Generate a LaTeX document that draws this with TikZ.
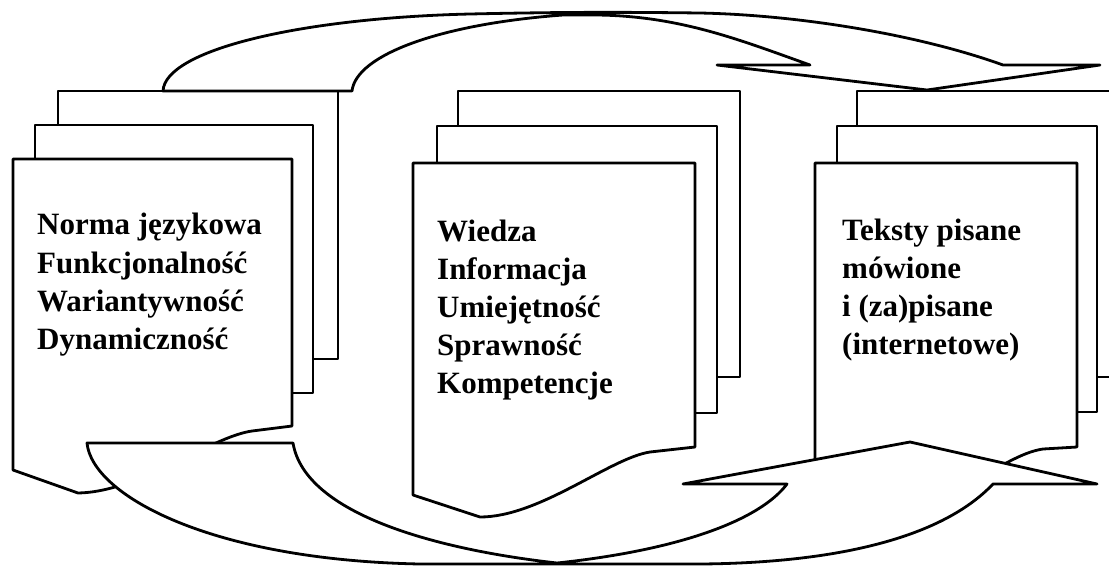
\documentclass[tikz,border=0pt]{standalone}
\usepackage{fontspec}
\setmainfont{Liberation Serif}
\begin{document}
\begin{tikzpicture}[x=1pt,y=-1pt,
  doc/.style={draw=black,fill=white,line width=2.8pt,line join=round},
  band/.style={draw=black,fill=white,line width=2.8pt,line join=round},
  txt/.style={anchor=base west,inner sep=0pt,font=\fontsize{31}{38}\selectfont\bfseries}]
\useasboundingbox (0,0) rectangle (1109,566);
\clip (0,0) rectangle (1109,566);
% ---- left stack
\draw[doc] (58,91) rectangle (338,359);
\draw[doc] (35,125) rectangle (313,393);
\draw[doc] (13,159) -- (292,159) -- (292,426) -- (252,431)
  .. controls (210,437) and (140,492) .. (78,493) -- (13,470) -- cycle;
% ---- middle stack
\draw[doc] (458,91) rectangle (740,377);
\draw[doc] (437,126) rectangle (717,413);
\draw[doc] (413,163) -- (695,163) -- (695,447) -- (650,452)
  .. controls (610,458) and (540,517) .. (480,517) -- (413,495) -- cycle;
% ---- right stack
\draw[doc] (857,91) rectangle (1125,377);
\draw[doc] (837,126) rectangle (1097,412);
\draw[doc] (815,163) -- (1077,163) -- (1077,447) -- (1043,449)
  .. controls (1000,455) and (940,517) .. (882,517) -- (815,495) -- cycle;
% ---- top band (left stack -> right stack)
\draw[band] (163,91) .. controls (165,50) and (300,18) .. (470,14)
  .. controls (560,12) and (620,12) .. (700,13)
  .. controls (800,15) and (920,35) .. (1003,65)
  -- (1100,65) -- (927,90) -- (717,65) -- (810,65)
  .. controls (740,40) and (680,16) .. (597,15)
  -- (563,15)
  .. controls (440,24) and (356,55) .. (352,91) -- cycle;
% ---- bottom band (left stack -> right stack)
\draw[band] (87,443) .. controls (92,495) and (210,560) .. (420,564)
  -- (700,564)
  .. controls (830,563) and (940,540) .. (993,484)
  -- (1097,484) -- (910,442) -- (683,484) -- (787,484)
  .. controls (760,520) and (680,550) .. (557,563)
  .. controls (440,550) and (305,515) .. (293,443) -- cycle;
% ---- texts
\node[txt] (l1) at (37,234) {Norma językowa};
\node[txt] (l2) at (37,273) {Funkcjonalność};
\node[txt] (l3) at (37,311) {Wariantywność};
\node[txt] (l4) at (37,349) {Dynamiczność};
\node[txt] (m1) at (437,241) {Wiedza};
\node[txt] (m2) at (437,279) {Informacja};
\node[txt] (m3) at (437,317) {Umiejętność};
\node[txt] (m4) at (437,355) {Sprawność};
\node[txt] (m5) at (437,393) {Kompetencje};
\node[txt] (r1) at (842,240) {Teksty pisane};
\node[txt] (r2) at (842,278) {mówione};
\node[txt] (r3) at (842,316) {i (za)pisane};
\node[txt] (r4) at (842,354) {(internetowe)};
\end{tikzpicture}
\end{document}
